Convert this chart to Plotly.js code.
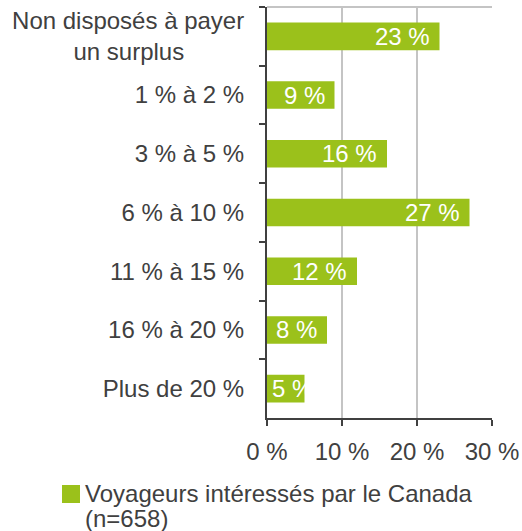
<!DOCTYPE html>
<html>
<head>
<meta charset="utf-8">
<script src="https://cdn.plot.ly/plotly-3.0.1.min.js"></script>
<style>html,body{margin:0;padding:0;background:#fff}#chart{width:522px;height:531px}</style>
</head>
<body>
<div id="chart"></div>
<script>
const categories = ["Non disposés à payer<br>un surplus\u00a0\u00a0\u00a0\u00a0\u00a0\u00a0\u00a0\u00a0\u00a0", "1 % à 2 %", "3 % à 5 %", "6 % à 10 %", "11 % à 15 %", "16 % à 20 %", "Plus de 20 %"];
const values = [23, 9, 16, 27, 12, 8, 5];
const seriesNameLines = ["Voyageurs intéressés par le Canada", "(n=658)"];
const xTickVals = [0, 10, 20, 30];
const xTickText = ["0 %", "10 %", "20 %", "30 %"];

const FONT = 'Liberation Sans, Arial, sans-serif';
const FS = 24;
const xMax = 30;
const marginL = 267, marginR = 30, marginT = 7, marginB = 113;
const W = 522, H = 531;
const plotW = W - marginL - marginR;
const plotH = H - marginT - marginB;
const pxPerUnit = plotW / xMax;

const cv = document.createElement('canvas').getContext('2d');
cv.font = FS + 'px "Liberation Sans", Arial, sans-serif';

const labels = values.map(v => v + ' %');

const trace = {
  type: 'bar',
  orientation: 'h',
  y: categories,
  x: values,
  name: seriesNameLines.join('<br>'),
  marker: {color: '#9bc11b'},
  width: 0.47,
  hoverinfo: 'none',
  showlegend: false
};

const annotations = values.map((v, i) => {
  const tw = cv.measureText(labels[i]).width;
  const fits = v * pxPerUnit >= tw + 10;
  return {
    x: fits ? v : 0, y: categories[i], xref: 'x', yref: 'y',
    text: labels[i], showarrow: false,
    xanchor: fits ? 'right' : 'left', yanchor: 'middle',
    xshift: fits ? -8 : 3, yshift: 0,
    font: {family: FONT, size: FS, color: '#ffffff'}
  };
});

// legend (swatch + two text lines)
const px2x = px => (px - marginL) / plotW;
const py2y = py => (marginT + plotH - py) / plotH;
annotations.push({
  x: px2x(83), y: py2y(493), xref: 'paper', yref: 'paper', xanchor: 'left', yanchor: 'middle',
  text: seriesNameLines[0], showarrow: false, font: {family: FONT, size: FS, color: '#404040'}
});
annotations.push({
  x: px2x(83), y: py2y(518), xref: 'paper', yref: 'paper', xanchor: 'left', yanchor: 'middle',
  height: 27, valign: 'middle',
  text: seriesNameLines[1], showarrow: false, font: {family: FONT, size: FS, color: '#404040'}
});

const layout = {
  width: W, height: H,
  margin: {l: marginL, r: marginR, t: marginT, b: marginB},
  paper_bgcolor: '#ffffff', plot_bgcolor: '#ffffff',
  font: {family: FONT, size: FS, color: '#404040'},
  showlegend: false,
  xaxis: {
    range: [0, xMax], tickvals: xTickVals, ticktext: xTickText,
    showgrid: true, gridcolor: '#c4c4c4', gridwidth: 2,
    showline: true, linecolor: '#404040', linewidth: 2,
    ticks: 'outside', ticklen: 6, tickcolor: '#404040', tickwidth: 2,
    zeroline: false, fixedrange: true, ticklabelstandoff: 5
  },
  yaxis: {
    autorange: 'reversed',
    showline: true, linecolor: '#404040', linewidth: 2,
    ticks: 'outside', tickson: 'boundaries', ticklen: 6, tickcolor: '#404040', tickwidth: 2,
    showgrid: false, zeroline: false, fixedrange: true, ticklabelstandoff: 16
  },
  annotations: annotations,
  shapes: [
    {type: 'line', xref: 'paper', yref: 'paper', x0: 0, x1: 1, y0: 1, y1: 1, line: {color: '#c4c4c4', width: 2}},
    {type: 'rect', xref: 'paper', yref: 'paper', x0: px2x(62), x1: px2x(80), y0: py2y(503), y1: py2y(485),
     fillcolor: '#9bc11b', line: {width: 0}}
  ]
};

Plotly.newPlot('chart', [trace], layout, {displayModeBar: false, staticPlot: true});
</script>
</body>
</html>
